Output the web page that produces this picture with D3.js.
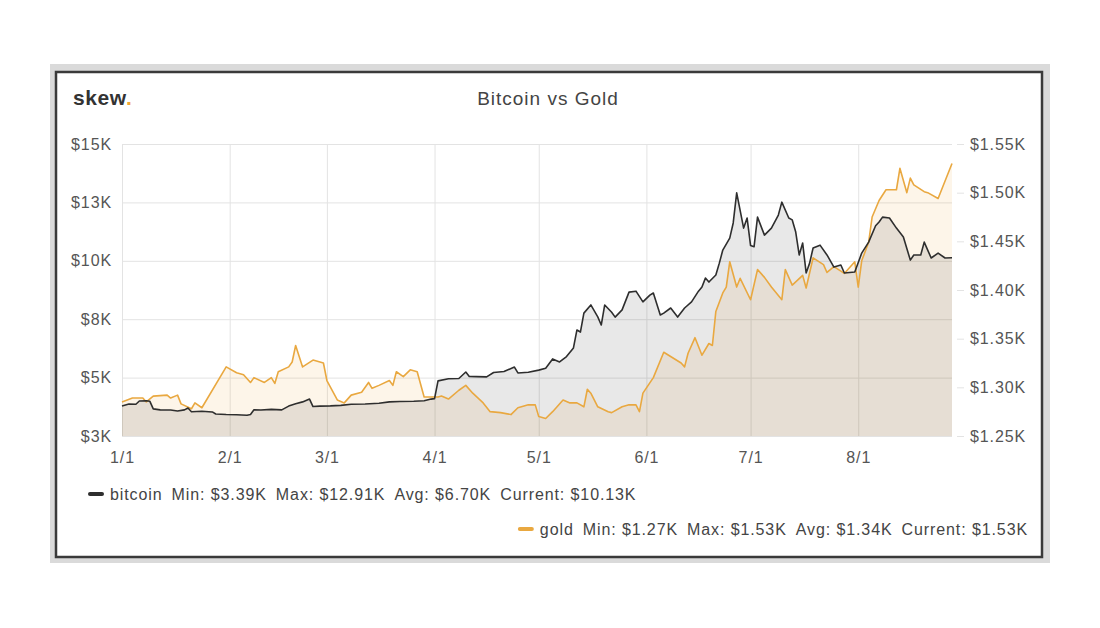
<!DOCTYPE html>
<html>

<head>
    <meta charset="utf-8" />
    <title>Bitcoin vs Gold</title>
    <script src="https://cdn.jsdelivr.net/npm/d3@7"></script>
</head>

<body>
    <style>
        html,
        body {
            margin: 0;
            padding: 0;
            background: #fff;
        }

        #chart {
            display: block;
            font-family: "Liberation Sans", Arial, sans-serif;
        }

        .axis text {
            fill: #555;
            font-size: 16px;
            letter-spacing: 0.9px;
        }

        .axis .domain {
            display: none;
        }

        .grid line {
            stroke: #e3e3e3;
        }
    </style>
    <svg id="chart" width="1100" height="628"></svg>
    <script>
        // bitcoin, daily-ish closes (MM-DD of 2019)
        const btcDates = ["01-01", "01-03", "01-05", "01-06", "01-08", "01-09", "01-10", "01-12", "01-15", "01-17",
            "01-19", "01-20", "01-21", "01-24", "01-27", "01-28", "01-31", "02-03", "02-06", "02-07", "02-08", "02-10",
            "02-13", "02-16", "02-18", "02-20", "02-22", "02-24", "02-25", "02-27", "03-02", "03-05", "03-08", "03-12",
            "03-16", "03-19", "03-22", "03-26", "03-29", "03-31", "04-01", "04-02", "04-05", "04-08", "04-10", "04-11",
            "04-13", "04-16", "04-18", "04-21", "04-24", "04-25", "04-28", "05-01", "05-03", "05-05", "05-07", "05-09",
            "05-11", "05-12", "05-13", "05-14", "05-16", "05-18", "05-19", "05-20", "05-22", "05-23", "05-25", "05-27",
            "05-29", "05-31", "06-02", "06-03", "06-05", "06-06", "06-08", "06-10", "06-12", "06-14", "06-16", "06-17",
            "06-18", "06-19", "06-21", "06-22", "06-23", "06-25", "06-26", "06-27", "06-29", "06-30", "07-01", "07-02",
            "07-03", "07-05", "07-07", "07-09", "07-10", "07-12", "07-13", "07-14", "07-15", "07-16", "07-17", "07-18",
            "07-19", "07-21", "07-23", "07-25", "07-27", "07-28", "07-31", "08-02", "08-04", "08-06", "08-07", "08-08",
            "08-10", "08-12", "08-14", "08-16", "08-17", "08-19", "08-20", "08-22", "08-24", "08-26", "08-28"];
        const btcPrices = [3780, 3870, 3860, 4000, 4010, 3990, 3660, 3620, 3610, 3570,
            3620, 3700, 3540, 3560, 3530, 3440, 3420, 3410, 3390, 3420, 3620, 3610,
            3640, 3620, 3780, 3880, 3960, 4080, 3760, 3780, 3790, 3810, 3860, 3870,
            3900, 3960, 3980, 3990, 4010, 4080, 4100, 4860, 4950, 4960, 5240, 5050,
            5040, 5030, 5220, 5260, 5450, 5200, 5230, 5320, 5400, 5800, 5670, 5900,
            6270, 7040, 6950, 7760, 8110, 7600, 7250, 8110, 7800, 7590, 7900, 8660,
            8700, 8240, 8530, 8620, 7680, 7760, 7980, 7590, 7980, 8240, 8700, 8880,
            9260, 9090, 9390, 9900, 10460, 10970, 11620, 12910, 11400, 11830, 10650, 10600,
            11870, 11100, 11400, 11960, 12510, 11830, 11750, 11230, 10250, 10760, 9480, 9900,
            10550, 10670, 10250, 9730, 9820, 9480, 9520, 10330, 10800, 11500, 11660, 11870,
            11830, 11400, 11020, 10030, 10250, 10250, 10800, 10120, 10330, 10120, 10130];

        // gold spot price
        const goldDates = ["01-01", "01-04", "01-07", "01-08", "01-10", "01-14", "01-15", "01-17", "01-18", "01-21",
            "01-22", "01-24", "01-31", "02-03", "02-05", "02-07", "02-08", "02-11", "02-13", "02-14", "02-15", "02-18",
            "02-19", "02-20", "02-22", "02-25", "02-28", "03-01", "03-04", "03-06", "03-08", "03-11", "03-13", "03-14",
            "03-16", "03-19", "03-20", "03-21", "03-23", "03-25", "03-27", "03-29", "04-02", "04-03", "04-05", "04-08",
            "04-10", "04-12", "04-15", "04-17", "04-20", "04-23", "04-25", "04-28", "04-30", "05-01", "05-03", "05-05",
            "05-08", "05-10", "05-12", "05-14", "05-15", "05-16", "05-18", "05-21", "05-22", "05-25", "05-27", "05-29",
            "05-30", "05-31", "06-03", "06-06", "06-11", "06-12", "06-13", "06-15", "06-17", "06-19", "06-20", "06-21",
            "06-23", "06-24", "06-25", "06-27", "06-28", "07-01", "07-03", "07-05", "07-07", "07-10", "07-11", "07-13",
            "07-16", "07-17", "07-19", "07-22", "07-23", "07-25", "07-28", "07-31", "08-01", "08-02", "08-04", "08-05",
            "08-07", "08-09", "08-12", "08-13", "08-15", "08-16", "08-17", "08-20", "08-21", "08-24", "08-28"];
        const goldPrices = [1285, 1289, 1289, 1285, 1291, 1292, 1289, 1292, 1283, 1278,
            1284, 1279, 1321, 1315, 1313, 1305, 1310, 1305, 1310, 1304, 1316, 1321,
            1326, 1343, 1321, 1328, 1325, 1307, 1287, 1284, 1292, 1295, 1305, 1299,
            1302, 1307, 1302, 1316, 1311, 1318, 1316, 1290, 1290, 1291, 1288, 1297,
            1302, 1294, 1284, 1275, 1274, 1272, 1279, 1282, 1282, 1270, 1268, 1275,
            1287, 1284, 1284, 1280, 1298, 1294, 1280, 1275, 1274, 1280, 1282, 1282,
            1275, 1294, 1310, 1336, 1325, 1321, 1335, 1351, 1333, 1345, 1343, 1378,
            1397, 1403, 1429, 1403, 1412, 1390, 1421, 1413, 1403, 1390, 1421, 1405,
            1415, 1402, 1433, 1426, 1418, 1424, 1417, 1429, 1403, 1430, 1449, 1475,
            1492, 1503, 1503, 1525, 1500, 1515, 1508, 1501, 1500, 1494, 1530];

        const btcTicks = [2500, 5000, 7500, 10000, 12500, 15000];
        const goldTicks = [1250, 1300, 1350, 1400, 1450, 1500, 1550];
        const monthTicks = ["01-01", "02-01", "03-01", "04-01", "05-01", "06-01", "07-01", "08-01"];

        const btcStats = ["Min: $3.39K", "Max: $12.91K", "Avg: $6.70K", "Current: $10.13K"];
        const goldStats = ["Min: $1.27K", "Max: $1.53K", "Avg: $1.34K", "Current: $1.53K"];

        const btcColor = "#2e2e2e";
        const goldColor = "#e9a840";

        const parse = s => d3.timeParse("%Y-%m-%d")("2019-" + s);
        const btc = btcDates.map((d, i) => ({ date: parse(d), value: btcPrices[i] }));
        const gold = goldDates.map((d, i) => ({ date: parse(d), value: goldPrices[i] }));

        const svg = d3.select("#chart");

        // card frame
        svg.append("rect")
            .attr("x", 50).attr("y", 64)
            .attr("width", 1000).attr("height", 499)
            .attr("fill", "#dadada");
        svg.append("rect")
            .attr("x", 56).attr("y", 72)
            .attr("width", 986).attr("height", 485)
            .attr("fill", "#fff")
            .attr("stroke", "#3a3a3a")
            .attr("stroke-width", 2.5);

        svg.append("text")
            .attr("x", 73).attr("y", 105)
            .attr("font-size", 21).attr("font-weight", "bold")
            .attr("letter-spacing", 0.6)
            .attr("fill", "#333")
            .text("skew")
            .append("tspan").attr("fill", "#f2a733").text(".");

        svg.append("text")
            .attr("x", 548).attr("y", 105)
            .attr("text-anchor", "middle")
            .attr("font-size", 19)
            .attr("letter-spacing", 1)
            .attr("fill", "#444")
            .text("Bitcoin vs Gold");

        const plotL = 122, plotR = 952, plotT = 144, plotB = 436;

        const x = d3.scaleTime()
            .domain([parse("01-01"), parse("08-28")])
            .range([plotL, plotR]);
        const yL = d3.scaleLinear().domain([2500, 15000]).range([plotB, plotT]);
        const yR = d3.scaleLinear().domain([1250, 1550]).range([plotB, plotT]);

        // left axis doubles as horizontal grid
        svg.append("g")
            .attr("class", "axis grid")
            .attr("transform", `translate(${plotL},0)`)
            .call(d3.axisLeft(yL).tickValues(btcTicks)
                .tickSize(-(plotR - plotL)).tickPadding(10)
                .tickFormat(d => "$" + Math.round(d / 1000) + "K"));

        svg.append("g")
            .attr("class", "axis grid")
            .attr("transform", `translate(0,${plotB})`)
            .call(d3.axisBottom(x).tickValues(monthTicks.map(parse))
                .tickSize(-(plotB - plotT)).tickPadding(16)
                .tickFormat(d3.timeFormat("%-m/%-d")));

        svg.append("g")
            .attr("class", "axis grid")
            .attr("transform", `translate(${plotR + 5},0)`)
            .call(d3.axisRight(yR).tickValues(goldTicks)
                .tickSize(7).tickPadding(6)
                .tickFormat(d => "$" + (d / 1000).toFixed(2) + "K"));

        const goldArea = d3.area()
            .x(d => x(d.date)).y0(plotB).y1(d => yR(d.value));
        const btcArea = d3.area()
            .x(d => x(d.date)).y0(plotB).y1(d => yL(d.value));

        svg.append("path").datum(gold)
            .attr("d", goldArea)
            .attr("fill", "#f0a33a").attr("fill-opacity", 0.11);
        svg.append("path").datum(btc)
            .attr("d", btcArea)
            .attr("fill", "#000").attr("fill-opacity", 0.09);

        svg.append("path").datum(gold)
            .attr("d", d3.line().x(d => x(d.date)).y(d => yR(d.value)))
            .attr("fill", "none").attr("stroke", goldColor).attr("stroke-width", 1.6)
            .attr("stroke-linejoin", "round");
        svg.append("path").datum(btc)
            .attr("d", d3.line().x(d => x(d.date)).y(d => yL(d.value)))
            .attr("fill", "none").attr("stroke", btcColor).attr("stroke-width", 1.6)
            .attr("stroke-linejoin", "round");

        // legend
        function legendRow(name, stats, color, px, py, anchor) {
            const g = svg.append("g");
            const t = g.append("text")
                .attr("x", px).attr("y", py)
                .attr("dy", "0.35em")
                .attr("text-anchor", anchor)
                .attr("font-size", 16)
                .attr("letter-spacing", 0.9)
                .attr("fill", "#444");
            t.append("tspan").text(name);
            stats.forEach(s => t.append("tspan").attr("dx", 9).text(s));
            const box = t.node().getBBox();
            g.append("rect")
                .attr("x", box.x - 22).attr("y", py - 2)
                .attr("width", 16).attr("height", 4).attr("rx", 2)
                .attr("fill", color);
        }
        legendRow("bitcoin", btcStats, btcColor, 110, 494, "start");
        legendRow("gold", goldStats, goldColor, 1028, 529, "end");
    </script>
</body>

</html>
